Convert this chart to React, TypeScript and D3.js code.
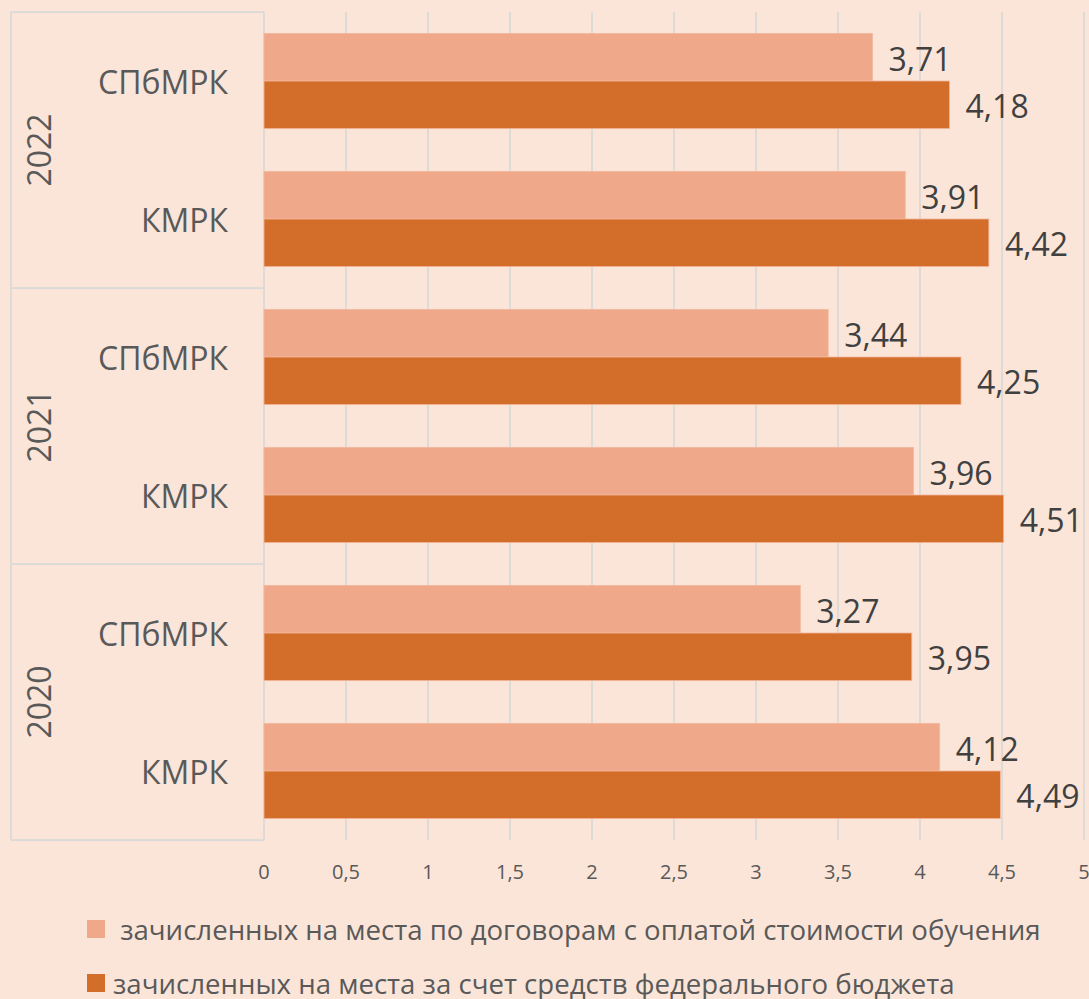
import React, { useEffect, useRef } from 'react';
import * as d3 from 'd3';

// data
const years = ['2022', '2021', '2020'];
const colleges = ['СПбМРК', 'КМРК'];
const paidValues = [3.71, 3.91, 3.44, 3.96, 3.27, 4.12];
const budgetValues = [4.18, 4.42, 4.25, 4.51, 3.95, 4.49];
const xTicks = [0, 0.5, 1, 1.5, 2, 2.5, 3, 3.5, 4, 4.5, 5];
const seriesNames = [
  ' зачисленных на места по договорам с оплатой стоимости обучения',
  'зачисленных на места за счет средств федерального бюджета'
];

const BG = '#FAE5D8';
const LIGHT = '#F0A88A';
const DARK = '#D26D2A';
const GRID = '#D9D9D9';
const FONT = '"Open Sans", sans-serif';

const fmt = (v: number) => String(v).replace('.', ',');

const App = () => {
  const svgRef = useRef<SVGSVGElement>(null);

  useEffect(() => {
    const W = 1089;
    const H = 999;
    const svg = d3.select(svgRef.current);
    svg.selectAll('*').remove();
    svg.attr('width', W).attr('height', H);

    svg.append('rect').attr('width', W).attr('height', H).attr('fill', BG);

    const left = 264;
    const right = 1084;
    const top = 12;
    const bottom = 840;
    const outerLeft = 11;

    // rows: year x college
    const rows: { year: string; college: string; paid: number; budget: number; key: string }[] = [];
    years.forEach((y, yi) => {
      colleges.forEach((c, ci) => {
        const i = yi * colleges.length + ci;
        rows.push({ year: y, college: c, paid: paidValues[i], budget: budgetValues[i], key: `${y}-${c}` });
      });
    });

    const x = d3.scaleLinear().domain([0, 5]).range([left, right]);
    const y = d3.scaleBand()
      .domain(rows.map(r => r.key))
      .range([top, bottom])
      .paddingInner(0.31)
      .paddingOuter(0.155);
    const sub = d3.scaleBand().domain(['paid', 'budget']).range([0, y.bandwidth()]);

    // gridlines
    svg.append('g')
      .selectAll('line')
      .data(xTicks.slice(1))
      .enter()
      .append('line')
      .attr('x1', d => x(d))
      .attr('x2', d => x(d))
      .attr('y1', top)
      .attr('y2', bottom)
      .attr('stroke', GRID)
      .attr('stroke-width', 1.75);

    // left label table lines
    const step = y.step();
    const groupEdges = years.map((_, i) => top + i * colleges.length * step);
    const lines = svg.append('g').attr('stroke', GRID).attr('stroke-width', 1.75);
    lines.append('line').attr('x1', outerLeft).attr('x2', outerLeft).attr('y1', top).attr('y2', bottom);
    lines.append('line').attr('x1', left).attr('x2', left).attr('y1', top).attr('y2', bottom);
    lines.append('line').attr('x1', outerLeft).attr('x2', left).attr('y1', bottom).attr('y2', bottom);
    groupEdges.forEach(g => {
      lines.append('line').attr('x1', outerLeft).attr('x2', left).attr('y1', g).attr('y2', g);
    });

    // bars + value labels
    const bars = svg.append('g');
    rows.forEach(r => {
      const y0 = y(r.key) as number;
      [['paid', r.paid, LIGHT], ['budget', r.budget, DARK]].forEach(([k, v, col]) => {
        const by = y0 + (sub(k as string) as number);
        bars.append('rect')
          .attr('x', x(0))
          .attr('y', by)
          .attr('width', x(v as number) - x(0))
          .attr('height', sub.bandwidth())
          .attr('fill', col as string)
          .attr('stroke', '#F3B79C')
          .attr('stroke-width', 0.8);
        bars.append('text')
          .attr('x', x(v as number) + 16)
          .attr('y', by + sub.bandwidth() / 2 + 1)
          .attr('dominant-baseline', 'central')
          .attr('fill', '#404040')
          .style('font-family', FONT)
          .style('font-size', '32px')
          .text(fmt(v as number));
      });
    });

    // category labels
    svg.append('g')
      .selectAll('text')
      .data(rows)
      .enter()
      .append('text')
      .attr('x', 228)
      .attr('y', d => (y(d.key) as number) + y.bandwidth() / 2)
      .attr('text-anchor', 'end')
      .attr('dominant-baseline', 'central')
      .attr('fill', '#595959')
      .style('font-family', FONT)
      .style('font-size', '32px')
      .text(d => d.college);

    // year labels
    svg.append('g')
      .selectAll('text')
      .data(years)
      .enter()
      .append('text')
      .attr('transform', (d, i) => {
        const cy = groupEdges[i] + (colleges.length * step) / 2;
        return `translate(38,${cy}) rotate(-90)`;
      })
      .attr('text-anchor', 'middle')
      .attr('dominant-baseline', 'central')
      .attr('fill', '#595959')
      .style('font-family', FONT)
      .style('font-size', '32px')
      .text(d => d);

    // x tick labels
    svg.append('g')
      .selectAll('text')
      .data(xTicks)
      .enter()
      .append('text')
      .attr('x', d => x(d))
      .attr('y', 871)
      .attr('text-anchor', 'middle')
      .attr('dominant-baseline', 'central')
      .attr('fill', '#595959')
      .style('font-family', FONT)
      .style('font-size', '20px')
      .text(d => fmt(d));

    // legend
    const legend = svg.append('g');
    const legendColors = [LIGHT, DARK];
    const legendY = [929, 983];
    seriesNames.forEach((name, i) => {
      legend.append('rect')
        .attr('x', 87)
        .attr('y', legendY[i] - 9)
        .attr('width', 18)
        .attr('height', 18)
        .attr('fill', legendColors[i]);
      legend.append('text')
        .attr('x', 113)
        .attr('y', legendY[i])
        .attr('dominant-baseline', 'central')
        .attr('fill', '#595959')
        .style('font-family', FONT)
        .style('font-size', '27.6px')
        .style('white-space', 'pre')
        .text(name);
    });
  }, []);

  return (
    <div style={{ position: 'absolute', left: 0, top: 0 }}>
      <svg ref={svgRef}></svg>
    </div>
  );
};

export default App;
